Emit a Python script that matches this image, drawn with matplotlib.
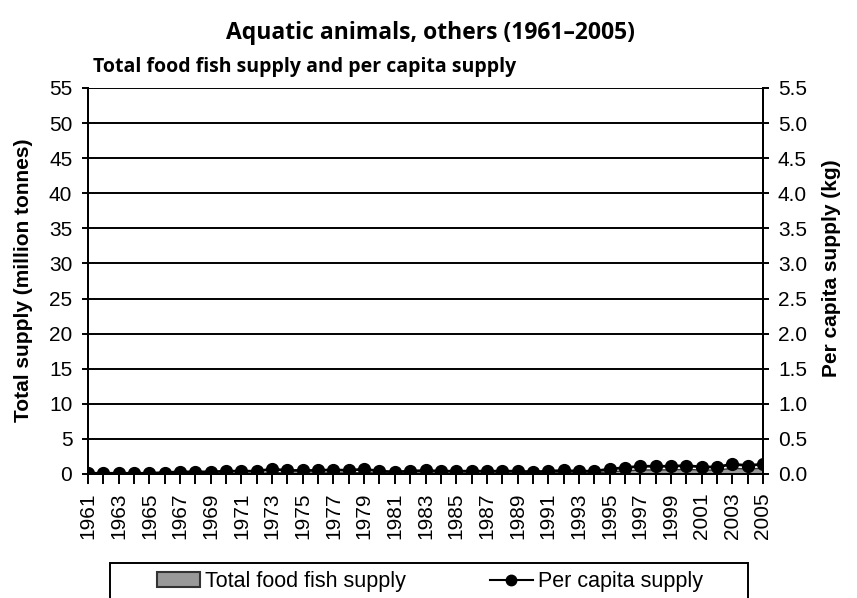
import numpy as np
import matplotlib.pyplot as plt
from matplotlib.patches import Patch, Rectangle
from matplotlib.lines import Line2D

years = list(range(1961, 2006))
# total food fish supply, million tonnes
total_supply = [0.03, 0.03, 0.03, 0.03, 0.03, 0.07, 0.10, 0.11, 0.11, 0.15,
                0.15, 0.15, 0.27, 0.20, 0.20, 0.21, 0.25, 0.21, 0.30, 0.18,
                0.13, 0.18, 0.23, 0.19, 0.19, 0.20, 0.20, 0.20, 0.21, 0.16,
                0.21, 0.27, 0.22, 0.23, 0.40, 0.52, 0.64, 0.65, 0.66, 0.73,
                0.62, 0.63, 0.89, 0.77, 0.90]
# per capita supply, kg
per_capita = [0.01, 0.01, 0.01, 0.01, 0.01, 0.02, 0.03, 0.03, 0.03, 0.04,
              0.04, 0.04, 0.07, 0.05, 0.05, 0.05, 0.06, 0.05, 0.07, 0.04,
              0.03, 0.04, 0.05, 0.04, 0.04, 0.04, 0.04, 0.04, 0.04, 0.03,
              0.04, 0.05, 0.04, 0.04, 0.07, 0.09, 0.11, 0.11, 0.11, 0.12,
              0.10, 0.10, 0.14, 0.12, 0.14]

plt.rcParams['font.family'] = ['Liberation Sans', 'DejaVu Sans']

fig = plt.figure(figsize=(8.57, 5.98), dpi=100)
ax = fig.add_axes([0.1027, 0.2074, 0.7876, 0.6455])
ax2 = ax.twinx()

ax.fill_between(years, total_supply, 0, facecolor='#999999', edgecolor='#333333', linewidth=1, zorder=2)
ax2.plot(years, per_capita, color='black', linewidth=2, marker='o', markersize=8.5, zorder=3)

ax.set_xlim(1961, 2005)
ax.set_ylim(0, 55)
ax2.set_ylim(0, 5.5)
ax.set_yticks(np.arange(0, 56, 5))
ax2.set_yticks(np.arange(0, 5.6, 0.5))
ax2.set_yticklabels(['%.1f' % v for v in np.arange(0, 5.6, 0.5)])
ax.set_xticks(years)
ax.set_xticklabels([str(y) if (y - 1961) % 2 == 0 else '' for y in years], rotation=90)

for v in np.arange(5, 56, 5):
    ax.axhline(v, color='black', linewidth=1.4, zorder=1)

for a in (ax, ax2):
    a.spines['top'].set_visible(False)
    for s in ('left', 'right', 'bottom'):
        a.spines[s].set_linewidth(1.4)
    a.tick_params(labelsize=15, width=1.4, length=4.3, direction='out', pad=7)
ax.tick_params(axis='x', length=7, pad=6.5)
ax2.tick_params(axis='y', length=4.3, pad=6.5)
ax2.set_zorder(ax.get_zorder() + 1)
ax2.patch.set_visible(False)

ax.set_ylabel('Total supply (million tonnes)', fontsize=15, fontweight='bold')
ax.yaxis.set_label_coords(-0.0815, 0.503)
ax2.set_ylabel('Per capita supply (kg)', fontsize=15, fontweight='bold')
ax2.yaxis.set_label_coords(1.087, 0.534)

fig.text(0.502, 0.945, 'Aquatic animals, others (1961\u20132005)', ha='center', va='center',
         fontsize=16.5, fontweight='bold', family=['Open Sans', 'DejaVu Sans'])
fig.text(0.108, 0.888, 'Total food fish supply and per capita supply', ha='left', va='center',
         fontsize=14, fontweight='bold', family=['Open Sans', 'DejaVu Sans'])

# legend box runs past the bottom edge of the picture
fig.patches.append(Rectangle((0.1284, -0.05), 0.7445, 0.1085, transform=fig.transFigure,
                             facecolor='white', edgecolor='black', linewidth=1.4))
handles = [Patch(facecolor='#999999', edgecolor='#333333', linewidth=1.5),
           Line2D([], [], color='black', linewidth=1.5, marker='o', markersize=7.5)]
fig.legend(handles, ['Total food fish supply', 'Per capita supply'], loc='center',
           bbox_to_anchor=(0.5018, 0.0268), ncol=2, fontsize=15.5, frameon=False,
           handlelength=2.0, handletextpad=0.25, columnspacing=3.9)

fig.savefig('out.png', dpi=100)
